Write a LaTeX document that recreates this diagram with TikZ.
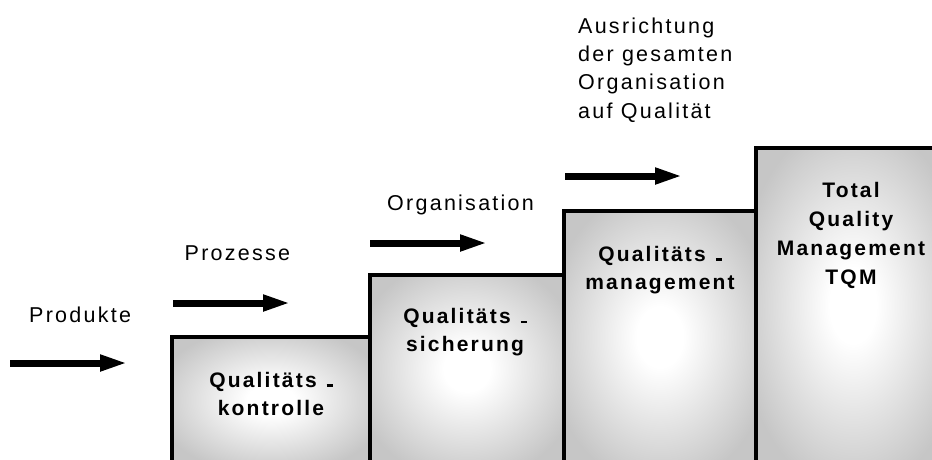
\documentclass[tikz,border=0pt]{standalone}
\usepackage{fontspec}
\setmainfont{Liberation Sans}
\newfontfamily\lblfont[LetterSpace=10.5]{Liberation Sans}
\usetikzlibrary{arrows.meta,calc}
\pgfdeclareradialshading{stepshade}{\pgfpoint{0bp}{0bp}}{color(0bp)=(white); color(6bp)=(white); color(30bp)=(gray!45); color(50bp)=(gray!45)}
\newcommand\qdash{\hspace{10pt}\rule[0.3pt]{6pt}{2.4pt}}
\tikzset{
  stepbox/.style={rectangle, draw=black, line width=4pt, shade, shading=stepshade,
    inner sep=0pt, outer sep=0pt, anchor=north west},
  boxtxt/.style={inner sep=0pt, align=center, anchor=base,
    font=\lblfont\bfseries\fontsize{21}{28}\selectfont},
  lbl/.style={inner sep=0pt, align=left, anchor=base west,
    font=\lblfont\fontsize{21.5}{28.3}\selectfont},
  flow/.style={line width=7pt, -{Triangle[length=28pt,width=15pt]}}
}
\begin{document}
\begin{tikzpicture}[x=1pt,y=-1pt]
\useasboundingbox (0,0) rectangle (932,459);
\clip (0,0) rectangle (932,459);
% steps
\node[stepbox, minimum width=198pt, minimum height=126pt]   (b1) at (172,337) {};
\node[stepbox, minimum width=194pt, minimum height=188.5pt] (b2) at (370,274.5) {};
\node[stepbox, minimum width=192pt, minimum height=252pt]   (b3) at (564,211) {};
\node[stepbox, minimum width=194pt, minimum height=315.5pt] (b4) at (756,147.5) {};
% step texts (base = last line)
\node[boxtxt] (t1) at ($(b1.north)+(0,78)$) {Qualitäts\qdash\\kontrolle};
\node[boxtxt] (t2) at ($(b2.north)+(-2,77)$) {Qualitäts\qdash\\sicherung};
\node[boxtxt] (t3) at ($(b3.north)+(0,78)$) {Qualitäts\qdash\\management};
\node[boxtxt, font=\lblfont\bfseries\fontsize{21}{29}\selectfont] (t4) at ($(b4.north)+(-2,137)$) {Total\\Quality\\Management\\TQM};
% arrows
\coordinate (a1s) at (10,363);  \coordinate (a1e) at (128,363);
\coordinate (a2s) at (173,303); \coordinate (a2e) at (291,303);
\coordinate (a3s) at (370,243); \coordinate (a3e) at (488,243);
\coordinate (a4s) at (565,176); \coordinate (a4e) at (683,176);
\draw[flow] (a1s) -- (a1e);
\draw[flow] (a2s) -- (a2e);
\draw[flow] (a3s) -- (a3e);
\draw[flow] (a4s) -- (a4e);
% labels
\node[lbl] (l1) at (29,322.3) {Produkte};
\node[lbl] (l2) at (184.5,260) {Prozesse};
\node[lbl] (l3) at (387,210.7) {Organisation};
\node[lbl] (l4) at (578,118.2) {Ausrichtung\\der gesamten\\Organisation\\auf Qualität};
\end{tikzpicture}
\end{document}
